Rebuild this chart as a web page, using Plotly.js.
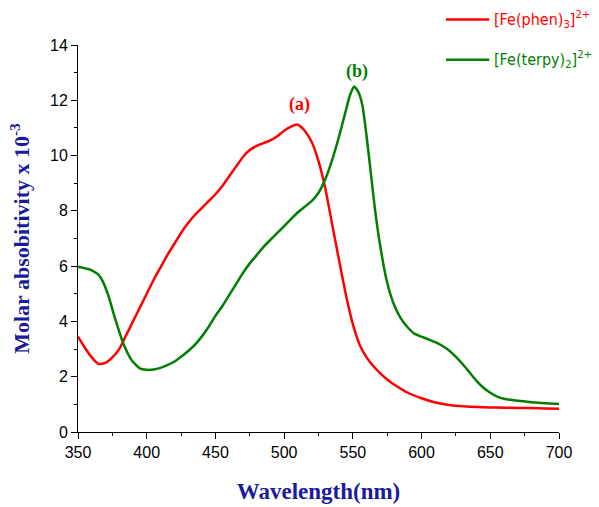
<!DOCTYPE html>
<html>
<head>
<meta charset="utf-8">
<script src="https://cdn.plot.ly/plotly-3.0.1.min.js"></script>
<style>html,body{margin:0;padding:0;background:#fff;}#chart{width:599px;height:507px;}</style>
</head>
<body>
<div id="chart"></div>
<script>
const phenX = [350,355,360,365,370,375,380,385,390,395,400,405,410,415,420,425,430,435,440,445,450,455,460,465,470,475,480,485,490,495,500,505,510,515,520,525,530,535,540,545,550,555,560,565,570,575,580,590,600,610,620,630,640,650,660,670,680,690,700];
const phenY = [3.45,3.05,2.7,2.46,2.5,2.7,3.0,3.5,4.0,4.5,5.0,5.5,5.95,6.4,6.8,7.2,7.55,7.85,8.1,8.35,8.6,8.9,9.25,9.6,9.95,10.2,10.35,10.45,10.55,10.7,10.9,11.05,11.12,10.9,10.5,9.8,8.8,7.5,6.2,4.95,3.9,3.15,2.7,2.38,2.12,1.9,1.72,1.42,1.22,1.07,0.98,0.93,0.9,0.89,0.88,0.87,0.87,0.85,0.84];

const terpyX = [350,355,360,365,368,372,377,383,389,395,400,405,410,415,420,425,430,435,440,445,450,455,460,465,470,475,480,485,490,495,500,505,510,515,520,525,530,535,540,545,548,551,554,557,560,563,566,570,575,580,585,590,595,600,605,610,615,620,625,630,635,640,645,650,655,660,670,680,690,700];
const terpyY = [5.98,5.92,5.85,5.68,5.45,4.95,4.1,3.2,2.6,2.3,2.25,2.26,2.32,2.42,2.54,2.72,2.92,3.15,3.45,3.8,4.2,4.55,4.95,5.35,5.75,6.1,6.4,6.7,6.95,7.2,7.45,7.7,7.95,8.15,8.35,8.65,9.15,9.85,10.7,11.65,12.2,12.5,12.3,11.8,10.7,9.4,8.1,6.7,5.4,4.6,4.1,3.78,3.55,3.45,3.35,3.25,3.12,2.95,2.72,2.45,2.15,1.85,1.6,1.42,1.28,1.2,1.13,1.08,1.04,1.01];

const xTicks = [350,400,450,500,550,600,650,700];
const yTicks = [0,2,4,6,8,10,12,14];
const seriesNames = ['[Fe(phen)<sub>3</sub>]<sup>2+</sup>', '[Fe(terpy)<sub>2</sub>]<sup>2+</sup>'];
const peakLabels = ['(a)','(b)'];
const peakX = [511, 553];
const peakY = [11.85, 13.05];
const colors = ['#ff0000','#007f00'];

const data = [
  {x: phenX, y: phenY, type:'scatter', mode:'lines', name: seriesNames[0], showlegend:false,
   line:{color:colors[0], width:2.5, shape:'spline', smoothing:0.5}},
  {x: terpyX, y: terpyY, type:'scatter', mode:'lines', name: seriesNames[1], showlegend:false,
   line:{color:colors[1], width:2.5, shape:'spline', smoothing:0.5}}
];

// legend drawn in paper coordinates
const legY = [1.066, 0.962];
const legShapes = seriesNames.map((n,i)=>({type:'line', xref:'paper', yref:'paper', x0:0.765, x1:0.855, y0:legY[i], y1:legY[i],
  line:{color:colors[i], width:2.5}}));
const legAnn = seriesNames.map((n,i)=>({xref:'paper', yref:'paper', x:0.861, y:legY[i], xanchor:'left', yanchor:'middle',
  text:n, showarrow:false, font:{family:'"Liberation Sans Narrow", "Arial Narrow", "DejaVu Sans Condensed", sans-serif', size:16, color:colors[i]}}));

const axisFont = {family:'"Liberation Sans", Arial, sans-serif', size:16, color:'#000'};
const layout = {
  width:599, height:507,
  margin:{l:78, r:40, t:45, b:75},
  paper_bgcolor:'#fff', plot_bgcolor:'#fff',
  showlegend:false,
  xaxis:{range:[350,700], tickvals:xTicks, ticks:'outside', ticklen:6, tickwidth:1, tickcolor:'#000',
         showline:true, linecolor:'#000', linewidth:1, showgrid:false, zeroline:false, mirror:false,
         tickfont:axisFont,
         minor:{dtick:25, ticks:'outside', ticklen:3, tickcolor:'#000', showgrid:false},
         title:{text:'Wavelength(nm)', standoff:22, font:{family:'"Liberation Serif", "Times New Roman", serif', size:23, color:'#1a1a9a', weight:'bold'}}},
  yaxis:{range:[0,14], tickvals:yTicks, ticks:'outside', ticklen:6, tickwidth:1, tickcolor:'#000',
         showline:true, linecolor:'#000', linewidth:1, showgrid:false, zeroline:false, mirror:false,
         tickfont:axisFont,
         minor:{dtick:1, ticks:'outside', ticklen:3, tickcolor:'#000', showgrid:false},
         title:{text:'Molar absobitivity x 10<sup>-3</sup>', standoff:14, font:{family:'"Liberation Serif", "Times New Roman", serif', size:22, color:'#1a1a9a', weight:'bold'}}},
  shapes: legShapes,
  annotations: peakLabels.map((t,i)=>({x:peakX[i], y:peakY[i], xref:'x', yref:'y', text:'<b>'+t+'</b>', showarrow:false,
      font:{family:'"Liberation Serif", "Times New Roman", serif', size:18, color:colors[i]}})).concat(legAnn)
};

Plotly.newPlot('chart', data, layout, {displayModeBar:false, staticPlot:true});
</script>
</body>
</html>
